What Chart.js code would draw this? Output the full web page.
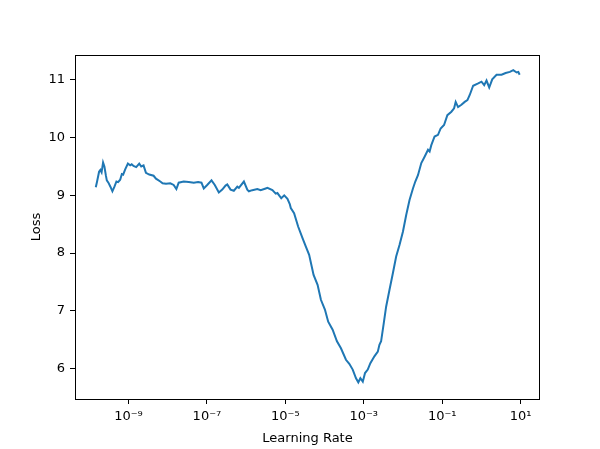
<!DOCTYPE html>
<html><head><meta charset="utf-8">
<script src="https://cdn.jsdelivr.net/npm/chart.js@4/dist/chart.umd.min.js"></script>
<style>html,body{margin:0;padding:0;background:#fff}canvas{display:block}</style>
</head><body>
<canvas id="c" width="600" height="449"></canvas>
<script>
// log10 of learning rate for each recorded point
const lrExponents = [
-9.834,-9.801,-9.750,-9.717,-9.686,-9.648,-9.614,-9.578,-9.553,-9.512,-9.461,-9.410,-9.358,-9.307,-9.264,-9.212,-9.169,-9.136,-9.084,-9.015,
-8.956,-8.918,-8.872,-8.803,-8.726,-8.675,-8.616,-8.555,-8.470,-8.360,-8.299,-8.189,-8.130,-8.043,-7.933,-7.848,-7.779,-7.720,-7.592,-7.464,
-7.336,-7.224,-7.139,-7.080,-6.993,-6.883,-6.799,-6.696,-6.609,-6.525,-6.481,-6.397,-6.313,-6.225,-6.185,-6.057,-5.970,-5.929,-5.842,-5.714,
-5.629,-5.501,-5.458,-5.330,-5.245,-5.202,-5.104,-5.028,-4.946,-4.887,-4.861,-4.777,-4.674,-4.562,-4.477,-4.393,-4.280,-4.178,-4.093,-3.991,
-3.907,-3.794,-3.684,-3.582,-3.454,-3.369,-3.282,-3.198,-3.139,-3.087,-3.025,-2.968,-2.898,-2.832,-2.729,-2.642,-2.601,-2.558,-2.489,-2.430,
-2.345,-2.258,-2.174,-2.089,-2.002,-1.918,-1.833,-1.746,-1.686,-1.618,-1.533,-1.449,-1.362,-1.321,-1.278,-1.194,-1.107,-1.040,-0.953,-0.868,
-0.766,-0.697,-0.656,-0.595,-0.510,-0.426,-0.357,-0.298,-0.211,-0.083,0.002,0.071,0.130,0.199,0.276,0.386,0.514,0.617,0.726,0.813,
0.898,0.941,0.975
];
const losses = [
9.14,9.24,9.41,9.44,9.40,9.57,9.50,9.35,9.26,9.22,9.15,9.07,9.15,9.24,9.23,9.27,9.37,9.36,9.45,9.55,
9.52,9.54,9.51,9.49,9.55,9.50,9.52,9.39,9.36,9.34,9.29,9.24,9.21,9.20,9.21,9.18,9.11,9.22,9.24,9.23,
9.22,9.23,9.22,9.12,9.18,9.26,9.18,9.05,9.10,9.17,9.19,9.10,9.08,9.15,9.13,9.24,9.10,9.07,9.09,9.11,
9.09,9.12,9.13,9.09,9.03,9.04,8.95,9.00,8.94,8.85,8.78,8.69,8.46,8.26,8.11,7.97,7.62,7.45,7.19,7.02,
6.81,6.67,6.47,6.35,6.15,6.08,5.98,5.83,5.76,5.83,5.77,5.92,5.98,6.09,6.21,6.29,6.41,6.47,6.79,7.07,
7.36,7.65,7.94,8.14,8.37,8.66,8.92,9.12,9.24,9.35,9.56,9.67,9.79,9.76,9.87,10.02,10.05,10.16,10.22,10.39,
10.45,10.51,10.62,10.53,10.57,10.62,10.65,10.74,10.90,10.94,10.97,10.91,10.99,10.87,11.01,11.09,11.09,11.12,11.14,11.17,
11.13,11.14,11.09
];
const xTickExponents = [-9, -7, -5, -3, -1, 1];
const xTickLabels = ['10\u207B\u2079', '10\u207B\u2077', '10\u207B\u2075', '10\u207B\u00B3', '10\u207B\u00B9', '10\u00B9'];
const yTicks = [6, 7, 8, 9, 10, 11];

const points = lrExponents.map((e, i) => ({ x: Math.pow(10, e), y: losses[i] }));
const xTickValues = xTickExponents.map(e => Math.pow(10, e));

Chart.defaults.font.family = '"DejaVu Sans", sans-serif';
Chart.defaults.font.size = 13;
Chart.defaults.color = '#000';

const frame = {
  id: 'frame',
  afterDatasetsDraw(chart) {
    const a = chart.chartArea, ctx = chart.ctx;
    ctx.save();
    ctx.strokeStyle = '#000';
    ctx.lineWidth = 1;
    ctx.strokeRect(Math.round(a.left) + 0.5, Math.round(a.top) + 0.5,
                   Math.round(a.right - a.left) - 1, Math.round(a.bottom - a.top));
    ctx.restore();
  }
};

new Chart(document.getElementById('c'), {
  type: 'line',
  data: {
    datasets: [{
      data: points,
      borderColor: '#1f77b4',
      borderWidth: 2,
      pointRadius: 0,
      tension: 0,
      fill: false
    }]
  },
  options: {
    responsive: false,
    animation: false,
    devicePixelRatio: 1,
    layout: { padding: { top: 55, right: 60, left: 0, bottom: 0 } },
    plugins: { legend: { display: false }, tooltip: { enabled: false } },
    scales: {
      x: {
        type: 'logarithmic',
        min: Math.pow(10, -10.364),
        max: Math.pow(10, 1.494),
        afterBuildTicks(scale) { scale.ticks = xTickValues.map(v => ({ value: v })); },
        afterFit(scale) { scale.height = 50; },
        ticks: {
          autoSkip: false, maxRotation: 0, padding: 5,
          callback(value) {
            const i = xTickValues.findIndex(v => Math.abs(Math.log10(v) - Math.log10(value)) < 1e-6);
            return i >= 0 ? xTickLabels[i] : '';
          }
        },
        grid: { drawOnChartArea: false, drawTicks: true, tickLength: 5, color: '#000', lineWidth: 1 },
        border: { display: false },
        title: { display: true, text: 'Learning Rate', padding: { top: 0, bottom: 3 } }
      },
      y: {
        type: 'linear',
        min: 5.47,
        max: 11.433,
        afterBuildTicks(scale) { scale.ticks = yTicks.map(v => ({ value: v })); },
        afterFit(scale) { scale.width = 75; },
        ticks: { padding: 5, callback(v) { return String(v); } },
        grid: { drawOnChartArea: false, drawTicks: true, tickLength: 5, color: '#000', lineWidth: 1 },
        border: { display: false },
        title: { display: true, text: 'Loss', padding: { top: 29, bottom: 0 } }
      }
    }
  },
  plugins: [frame]
});
</script>
</body></html>
